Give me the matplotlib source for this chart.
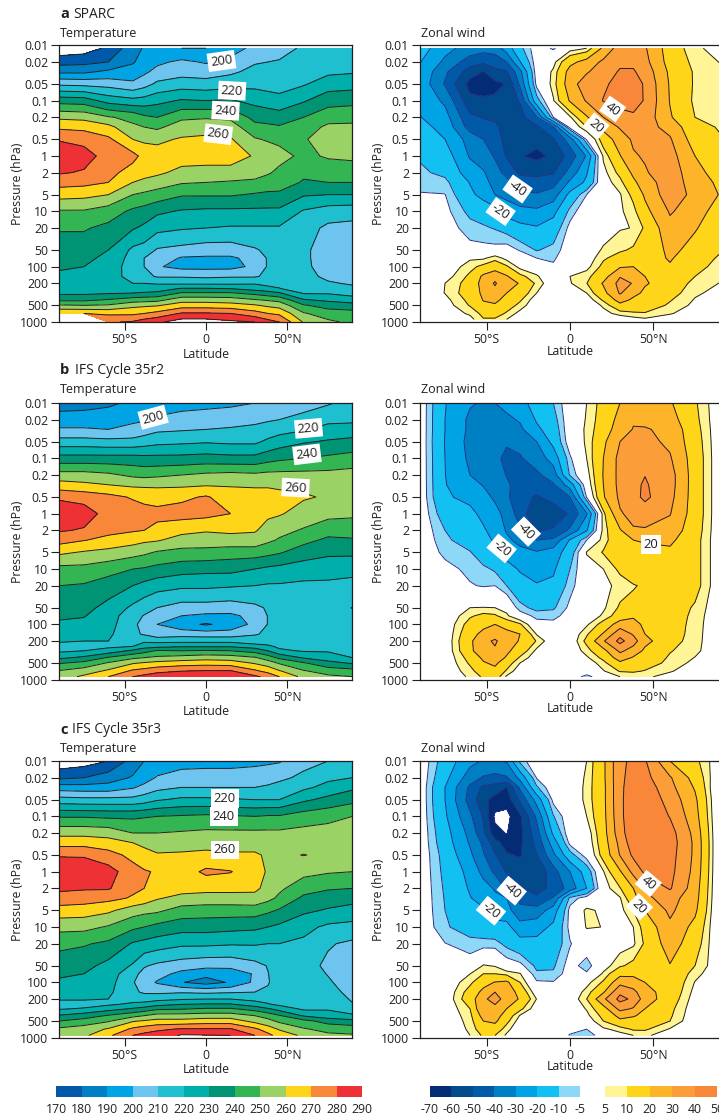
import numpy as np
import matplotlib
matplotlib.use("Agg")
import matplotlib.pyplot as plt
from matplotlib.colors import ListedColormap

plt.rcParams['font.family'] = ['Open Sans', 'DejaVu Sans']

nan = float('nan')

# pressure rows (hPa), the first / last one change per panel
p_rows_t = [0.01, 0.02, 0.03, 0.05, 0.1, 0.2, 0.3, 0.5, 1, 2, 3, 5, 10, 20, 50, 70, 100, 150, 200, 250, 300, 400, 500, 700, 1000]
p_rows_w = [0.01, 0.02, 0.03, 0.05, 0.1, 0.2, 0.3, 0.5, 1, 2, 3, 5, 10, 20, 50, 70, 100, 150, 200, 300, 400, 500, 700, 1000]
lat_t = [-90, -75, -60, -45, -38, -30, -15, 0, 15, 30, 38, 45, 60, 75, 90]
lat_w = [-90, -75, -60, -52, -45, -38, -30, -20, -10, 0, 10, 20, 30, 38, 45, 60, 75, 90]

# temperature, one list per latitude, top to bottom
t_a = [
    [163, 176, 188, 208, 236, 258, 268, 279, 288, 281, 274, 264, 249, 241, 235, 232.5, 231, 228.5, 225, 226, 228, 238, 251, 270, nan],
    [165, 177, 188, 207, 235, 257, 267, 277, 284, 279, 273, 263, 249, 241, 235, 232, 230, 226.5, 224, 225.5, 228, 238, 250, 270, nan],
    [172, 180, 192, 206, 226, 251, 263, 272, 276, 273, 270, 260, 245, 237.5, 230, 228, 226, 225, 225, 226.5, 229, 241, 251, 268, 279],
    [186, 189, 194, 202, 223, 247, 252, 260, 273, 266, 260, 250, 238, 231, 218, 216, 215, 216, 220, 224, 230, 245, 257, 268, 281],
    [191, 194, 198, 206, 224, 242, 250, 258, 267, 263, 258, 248, 236, 228, 216, 210, 210, 213, 220, 225, 231, 246, 258, 270, 285],
    [192, 198, 203, 212, 227, 240, 248, 258, 264, 262, 255, 246, 232, 223, 209, 206, 201, 209, 219, 225.5, 232, 247, 259, 273, 288],
    [190, 202, 206, 215, 231, 248, 255, 261, 265, 257, 251, 241, 229, 221, 207, 199, 197, 209, 218, 231, 241, 256, 265, 281, 295],
    [190, 199, 205, 214, 230, 249, 256, 262, 265, 256, 250, 241, 228, 220, 205, 198.5, 197, 208, 218, 231, 241, 256, 265, 281, 295],
    [195, 203, 208, 216, 231, 248, 255, 261, 265, 256, 249, 241, 228, 219, 205, 198.5, 197, 209, 218, 230, 241, 255, 264, 280, 292],
    [203, 209, 213, 217, 227, 237, 243, 251, 259, 254, 248, 239, 228, 219, 209, 203, 202, 209, 219, 226, 237, 251, 261, 274, 290],
    [205, 210, 213, 216, 225, 236, 242, 249, 256, 251, 246, 238, 228, 219, 212, 211, 211, 212, 216, 224, 234, 249, 258, 270, 284],
    [205, 211, 213, 216, 223, 235, 241, 248, 253, 248, 245, 238, 228, 219, 214, 213, 213, 214, 217, 220.5, 231, 247, 256, 268, 280],
    [212, 214, 216, 219, 229, 240, 245, 249, 248, 242, 239, 231, 219, 214, 212, 212, 212, 213, 214, 215, 219, 231, 241, 251, 259],
    [213, 216, 218, 225, 236, 246, 252, 255, 251, 245, 240, 230, 215, 208, 205, 205, 206, 208, 211, 214, 219, 228, 236, 245, 252],
    [214, 217, 219, 226, 237, 247, 252, 255, 252, 245, 240, 230, 214, 207, 204, 204, 205, 207, 209, 212, 216, 225, 234, 244, 248],
]
t_b = [
    [185, 195, 201, 214, 234, 254, 264, 278, 288, 281, 274, 262, 247, 240, 233, 231, 229, 224, 221, 217, 218, 228, 239, 251, 255],
    [186, 195, 201, 214, 234, 254, 262, 276, 285, 279, 270.5, 259, 247, 239, 233, 230.5, 228, 223.5, 220, 217, 220, 232, 243, 255, 262],
    [188, 196, 200, 213, 234, 252, 260, 273, 276, 273, 267, 257, 244, 235, 227, 225, 224, 222, 220, 218, 224, 241, 251, 262, 270],
    [192, 198, 203, 213, 234, 248, 258, 269, 275, 271, 264, 254, 240, 230, 218, 213.5, 212, 212, 218, 220, 232, 248, 259, 272, 280],
    [192, 199, 205, 215, 233, 247, 258, 267, 274, 270, 262, 252, 239, 227, 214, 209.5, 207, 209, 218, 226, 236, 250, 261, 274, 283],
    [193, 202, 208, 217, 233, 248, 258, 266, 273, 267, 261, 249, 237, 224, 210, 206, 200, 204, 217, 227, 241, 252, 263, 277, 287],
    [195, 205, 209, 218, 233, 250, 258, 268, 274, 263, 256, 247, 234, 222, 206, 200, 193, 206, 217, 229, 240, 254, 265, 280, 287],
    [197, 205, 210, 219, 234, 252, 259, 271, 273, 261, 255, 247, 233, 222, 206, 198, 189, 205, 217, 229, 241, 256, 266, 281, 288],
    [198, 206, 211, 218, 233, 253, 259, 265, 270, 262, 256, 245, 233, 221, 205, 198, 193, 205, 217, 229, 240, 255, 265, 281, 287],
    [200, 208, 212, 218, 233, 252, 259, 263, 264, 261, 256, 245, 230, 220, 208, 203, 203, 209.5, 213, 225.5, 236, 251, 259, 272, 282],
    [202, 209, 214, 222, 236, 253, 259, 263, 262, 256, 252, 243, 228, 219, 211, 210.3, 210.3, 211, 214, 222, 230, 245, 255, 267, 277],
    [204, 210, 216, 225, 238, 253, 258, 263, 261, 253, 249, 241, 227, 219, 213, 212, 211, 212, 214, 218, 222, 238, 249, 261, 270],
    [206, 213, 219, 229, 240, 253, 258, 261, 256, 249, 243, 235, 225, 218, 212, 211.5, 211, 212.5, 214, 216, 219, 229, 241, 251, 257],
    [209, 217, 224, 231, 242, 253, 257, 259, 253, 244, 238, 232, 224, 218, 213, 212.5, 212, 213.5, 215, 216.5, 219, 225, 233, 246, 252],
    [213, 218, 224, 233, 244, 254, 256, 257, 252, 244, 239, 232, 223, 217, 209.8, 211, 212, 213.5, 215, 216, 217, 220, 229, 244, 250],
]
t_c = [
    [163, 177.5, 195, 214, 239, 257, 266, 279, 288, 282, 276, 266, 253, 243, 234, 231, 229, 224, 221, 216, 219, 231, 240, 252, 256],
    [165, 180, 194, 213, 239, 257, 266, 279, 286, 281, 275, 265, 253, 241, 233, 230, 227, 224, 221, 216, 221, 235, 244, 255, 258],
    [170, 185, 194, 213, 238, 256, 264, 274, 284, 281, 273, 262, 249, 238, 227, 225.5, 224, 222, 220, 218.5, 226, 241, 249, 261, 268],
    [184, 191, 199, 213, 238, 250, 260, 267, 274, 272, 269, 255, 242, 229, 219, 213, 210.8, 212, 216, 222, 231, 247, 259, 272, 280],
    [190, 195, 203, 215, 239, 250, 258, 263, 271, 270, 266, 253, 240, 227, 211, 207, 205, 208.5, 216, 223, 234, 250, 261, 275, 283],
    [192, 201, 207, 219, 240, 250, 255, 261, 269, 269, 261, 252, 237, 225, 208, 204, 199, 208, 217, 227, 238, 254, 263, 278, 285],
    [195, 205, 210, 222, 241, 251, 257, 261, 265, 264, 257, 246, 234, 222, 205, 197, 190.5, 209, 219, 230, 239, 254, 263, 281, 291],
    [196, 205, 210, 222, 242, 252, 257, 262, 272, 263, 256, 245, 234, 222, 203, 193, 186, 208, 220, 231, 241, 255, 265, 281, 290.5],
    [196, 205, 210, 221, 241, 252, 257, 261, 270.5, 263, 256, 245, 233, 221, 203, 194, 191, 209, 220, 231, 241, 255, 265, 281, 290],
    [197, 206, 210, 220, 240, 252, 257, 261, 264, 262, 257, 245, 232, 221, 207, 201, 202, 210, 217, 225, 236, 250, 257, 272, 280],
    [198, 207, 211, 220, 241, 252, 256, 259, 259, 257, 253, 242, 230, 220, 210.5, 209.7, 209.5, 211, 216, 221, 231, 246, 253, 265, 273],
    [199, 208, 213, 220, 241, 252, 255, 258, 256, 252, 248, 239, 228, 220, 214, 214, 213, 214, 216, 218, 226, 241, 248, 259, 266],
    [207, 212, 218, 228, 245, 253, 256, 260.3, 253, 244, 238, 232, 223, 218, 214, 214, 214, 214, 215, 215, 218, 229, 243, 251, 258],
    [210, 218, 223, 233, 247, 254, 256, 258, 251, 241, 235, 229, 218, 211, 208, 209.6, 211, 213, 215, 216, 219, 224, 236, 247, 252],
    [213, 220, 228, 237, 250, 254, 255, 255, 250, 240, 234, 226, 217, 208, 206, 206, 206, 207.5, 209, 210.5, 213, 222, 233, 246, 251],
]

# zonal wind, one list per latitude, top to bottom
w_a = [
    [-15, -19.5, -22, -23, -22, -19.6, -17, -14, -11, -8.5, -7, -4.5, -3, -2, -1, 0, 0, 0, 0, 0, 0, 0, 0, 0],
    [-27, -32, -38, -41, -32, -26, -23, -20, -15, -12, -8, -4.8, -3, -2, -1, -0.5, 0, 2, 5, 5.2, 3, 2, 1, 0],
    [-34, -45, -55, -64, -57, -48, -44, -34, -31, -25, -20.5, -18, -12, -7.5, -3, 4, 8, 11.5, 13, 14, 12, 10.5, 6, 3],
    [-36, -48, -60.5, -66, -58, -50.5, -47, -40, -35, -29, -27, -23, -14, -9, -3, 4, 12, 22, 24, 22, 20.5, 18, 12, 9.5],
    [-36, -45, -53, -63, -58, -52, -48, -46, -41, -36, -33, -30, -16, -10.5, -3, 8, 15, 27, 31, 27, 22, 19, 14, 9],
    [-25, -40, -51, -59.5, -55, -55, -54, -53, -51, -43, -37, -33, -24, -13, -2, 3, 11, 21, 23, 20, 17, 14, 9, 5],
    [-12, -20.5, -33, -38, -49, -54, -56, -57, -59, -52, -45, -37, -27, -17, -5.5, -1, 3, 12, 19.5, 15, 11, 8, 3, 0],
    [-1, -1, -1, -3, -13, -41, -52, -56, -63, -52, -47, -39, -28, -19, -10.5, -5, 0, 6, 8.5, 5, 1, 0, 0, 0],
    [-6, 3, 6, 7, 4.5, -5, -40, -51, -58, -51, -44, -35, -23, -15, -8, -6, -4, -2, 0, 0, 0, 0, 0, 0],
    [2, 17, 24, 26, 21, 4, -2, -35, -46, -36, -28, -17, -8, -3, -1, 0, 0.5, 5, 4.5, 1, 0, 0, 0, 0],
    [5, 24, 29, 35, 31, 19, 10, -4, -29, -21, -18, -5, 0, 0, 0, 1, 3, 8, 9.8, 5, 1, 0, 0, 0],
    [22, 32, 35, 38, 40.5, 30, 23, 14, 6, 3, 2, 1.5, 1, 1, 6, 9, 12, 16, 21, 17, 11, 6, 3, 0],
    [35, 38, 41, 44, 43, 37, 31, 25, 19.5, 12, 8, 4.5, 4, 4.5, 9, 13, 19, 29.5, 33, 31, 24, 17, 7, 1],
    [33, 38, 41, 46, 45, 38, 34, 31.5, 29, 22, 18, 12, 8, 5.2, 11, 15, 20, 26, 29.5, 23, 18, 15, 9, 2.5],
    [31, 33, 36, 38.5, 39, 36, 33.5, 32, 31, 29, 25, 21.5, 17, 11, 11, 15, 19, 20, 21, 18, 16, 14, 9.5, 4],
    [15, 16, 18, 19, 19.5, 21, 27, 31, 34, 36, 36, 36, 31, 27, 23, 21, 19, 17, 15, 13, 10.5, 9, 5.5, 2],
    [6, 8, 9, 9, 8.5, 10, 12, 15, 20, 23, 25, 27, 25, 21, 16, 14, 12, 10, 8, 6, 4.5, 3.5, 2, 0],
    [3, 4.8, 6, 7, 8, 9, 9.5, 10.5, 13, 16, 18, 19.5, 15, 12.5, 10.8, 9, 8, 6.5, 4.8, 3, 2, 1, 0.5, 0],
]
w_b = [
    [0, 0, 0, 0, 0, 0, 0, 0, 0, 0, 0, 0, 0, 0, 0, 0, 0, 0, 0, 0, 0, 0, 0, 0],
    [-19.5, -20, -20, -20.5, -20, -19.8, -19.5, -19, -14.5, -10, -8.5, -6.5, -3, -2, -1, -0.5, 0, 0, 0, 0, 0, 0, 0, 0],
    [-29, -32, -32, -33, -32, -30, -27, -22, -18, -16, -14, -9.5, -6.5, -4.5, 5, 9, 13, 16, 18, 17, 13, 11, 8, 6],
    [-31, -33, -35, -36, -35, -33, -30.5, -27, -22, -19, -17.5, -15, -8.5, -5.5, 5.2, 12, 17, 23, 28, 29, 22, 19, 14, 11],
    [-30, -34, -36, -38.5, -38, -35, -32, -31.5, -27, -23, -21, -17, -11, -5, 5, 11, 20, 27, 31, 29, 25, 22, 17, 14],
    [-27, -32, -34, -39, -42, -40.5, -38.5, -38, -33, -31, -28, -24, -16, -10, 3, 6, 15, 24, 26, 22, 19, 14, 9, 4],
    [-24, -29, -32, -37, -41, -42, -44, -47, -45, -38, -33, -27, -21, -16, -8, -1, 11, 20, 19, 15, 9, 5, 1, 0],
    [-15, -19, -22, -30, -35, -42, -45, -51, -58, -50.5, -40, -29, -25, -19, -12, -7, -2, 4.5, 9.5, 3.5, 1, 0, 0, 0],
    [-10, -13, -15, -17, -26, -35, -41, -47, -55, -49, -38, -25, -21.5, -18, -11, -7, -3, 0, 0, 0, 0, 0, 0, 0],
    [0, 0, 0, -1, -6, -9, -25, -40, -49, -38, -19, -15, -10, -7, -3.5, -2, -1, 0, 0, 0, 0, 0, 0, -3],
    [5, 5.5, 6, 6, 5, 2, 0, -4.5, -31, -21, -5, 5.5, 2, 0, 0, 0.5, 4, 9, 12, 7.5, 4, 1, -3, -6],
    [13, 14, 15, 18, 20, 20.5, 20, 19, 8, 7, 7.5, 10.5, 5, 3, 4, 6, 13, 21, 29, 17, 12, 8, 4.5, -3],
    [20, 23, 25, 30, 33, 33, 33, 32, 29, 19, 16, 13, 11.5, 7, 11, 14, 25, 37, 43, 32, 25, 18, 10.5, 5],
    [22, 29, 30.5, 33, 36, 38, 38, 37, 33, 29, 20, 17, 15, 9.5, 12, 18, 25, 29, 34, 26, 19, 16, 11, 6],
    [25, 27, 31, 33, 36, 39.8, 41, 42, 35, 29, 21, 17, 15, 11, 15, 16, 17, 20, 23, 18, 16, 14, 9.5, 6],
    [21, 24, 27, 28, 31, 34, 34, 33, 30.5, 26, 22, 18, 17, 16.5, 15, 15, 14.5, 14, 13, 10.5, 9, 8, 5.5, 3],
    [11, 12, 13, 14, 15, 15, 15, 15, 15, 14, 13, 13, 13, 13, 9, 8, 7.5, 7.2, 7, 6.5, 4.8, 3.5, 2, 1],
    [0, 0, 0, 0, 0, 0, 0, 0, 0, 0, 0, 0, 0, 0, 0, 0, 0, 0, 0, 0, 0, 0, 0, 0],
]
w_c = [
    [0, 0, 0, 0, 0, 0, 0, 0, 0, 0, 0, 0, 0, 0, 0, 0, 0, 0, 0, 0, 0, 0, 0, 0],
    [-14, -17, -20, -20, -18.5, -16, -15, -13, -12, -11, -10.5, -10, -9, -4.8, -1, -0.5, 0, 0, 0, 0, 0, 0, 0, 0],
    [-27, -35, -42, -44, -38, -33, -31, -28, -23, -21, -19.5, -17, -14, -7.5, -2, 4.9, 8.5, 13, 15, 10, 8, 7, 6, 5],
    [-31, -41, -52, -57, -51, -48, -42, -39, -33, -26, -24, -18.5, -15.5, -7.5, 5.5, 10, 16, 23, 28, 30, 24, 20, 15, 11],
    [-31, -43, -54, -64, -72, -67, -56, -49, -42, -31, -28, -24, -17, -7.5, 4.5, 10, 20.5, 30, 34, 27, 25, 22, 15, 10],
    [-29, -41, -60.5, -66, -73, -70.5, -65, -59, -51, -42, -30, -26, -17, -12, -1, 8, 22, 27, 26, 20, 15, 12, 7, 4],
    [-8, -27, -38, -48, -62, -63, -62, -61, -55, -49, -43, -37, -26, -16, -3, 5.5, 10, 16, 19, 12, 4.5, 2, 0, 0],
    [0, -4.5, -11, -26, -38, -44, -47, -50.5, -58, -54, -48, -36, -24, -17, -11.5, -9, -4, 1, 4.8, 1, 0, 0, 0, 0],
    [0, 0, 0, -3, -10.5, -18, -25, -32, -44, -47, -39, -25, -18, -15, -11, -9, -4.5, -1, 0, 0, 0, 0, 0, 0],
    [0, 0, 0, 0, 0, 0, -3, -13, -30, -36, -8, -3, -3, -5.5, -2, -1.5, -1, 0, 0, 0, 0, 0, -3, -5.5],
    [5, 6, 6.5, 6.5, 5, 1, 0, -2, -15, -20, -2, 6.5, 5.5, 0, -8, -4, 3, 7, 10, 5.5, 3.5, 1, -5, -7],
    [18, 18, 17.5, 17.5, 17, 16, 15, 13, 4.5, 2, 2, 3.5, 4.9, 1, 2, 6, 11, 19, 28, 16, 12, 10, 4, -3],
    [38, 38, 38, 38, 37.5, 36, 33, 30.5, 19, 9.5, 4.5, 3, 2, 2, 9, 17, 27, 38, 43, 33, 23, 18, 7, 3],
    [42, 43.5, 45, 46, 47, 47, 46, 42, 33, 20, 16, 10, 5, 4, 12, 18, 24, 33, 38, 29, 21, 16, 11, 5],
    [41, 43, 46, 48, 49, 49, 48, 46, 42, 31, 28, 20, 13, 11, 13, 16, 20, 23, 25, 20, 17, 15, 11, 6],
    [20, 31, 33, 36, 39.5, 44, 45, 44, 43, 41, 34, 32, 28, 25, 19.5, 18, 17, 16, 14.5, 12, 11, 10, 4.5, 2],
    [12, 16, 19, 22, 24, 27, 28, 28, 27, 25, 24, 22, 17, 14, 10, 7, 4.7, 3, 2, 1, 0.5, 0, 0, 0],
    [0, -2, -4, -4, -4, -4, -4, -4, -4, -4, -4, -4, -3, -2, 0, 0, 0, 0, 0, 0, 0, 0, 0, 0],
]

t_levels = [170, 180, 190, 200, 210, 220, 230, 240, 250, 260, 270, 280, 290]
t_colors = ['#0058a8', '#0080c4', '#00a3e3', '#6dc5ef', '#20bfcf', '#00aeaa', '#009474',
            '#33b554', '#9bd266', '#ffd51a', '#f8873a', '#ee3135']
w_neg_levels = [-70, -60, -50, -40, -30, -20, -10, -5]
w_pos_levels = [5, 10, 20, 30, 40, 50]
w_neg_colors = ['#032c75', '#014a8c', '#005aa8', '#0080c4', '#00a3e3', '#12c0f2', '#8dd8f6']
w_pos_colors = ['#fff596', '#ffd51a', '#fdb428', '#fb9e3a', '#f8873a']

p_ticks = [0.01, 0.02, 0.05, 0.1, 0.2, 0.5, 1, 2, 5, 10, 20, 50, 100, 200, 500, 1000]
p_labels = ['0.01', '0.02', '0.05', '0.1', '0.2', '0.5', '1', '2', '5', '10', '20', '50', '100', '200', '500', '1000']
lat_ticks = [-50, 0, 50]
lat_labels = ['50°S', '0', '50°N']

# contour labels: text, latitude, pressure, rotation
t_a_labels = [('200', 9.5, 0.0192, 8), ('220', 16, 0.066, -3), ('240', 12, 0.152, -3), ('260', 7.5, 0.405, -7)]
w_a_labels = [('-40', -31.4, 3.95, -35), ('-20', -41.6, 10.1, -35), ('40', 25.6, 0.141, -35), ('20', 15.6, 0.287, -40)]
t_b_labels = [('200', -32.5, 0.0181, 15), ('220', 63, 0.0287, 5), ('240', 62, 0.0847, 7), ('260', 55, 0.339, -3)]
w_b_labels = [('-40', -26.4, 2.11, -45), ('-20', -41, 4.24, -40), ('20', 48.6, 3.58, 0)]
t_c_labels = [('220', 11.6, 0.0473, 0), ('240', 11, 0.101, 0), ('260', 11.6, 0.405, 0)]
w_c_labels = [('-40', -35, 2.2, -40), ('-20', -47.4, 5.07, -40), ('40', 47, 1.63, -40), ('20', 41.6, 4.3, -45)]

W = 719
H = 1119
TXT = '#231f20'
FS = 8.8

fig = plt.figure(figsize=(W / 100, H / 100), dpi=100)


def px_axes(x0, y0, x1, y1):
    return fig.add_axes([x0 / W, 1 - y1 / H, (x1 - x0) / W, (y1 - y0) / H])


def px_text(x, y, s, **kw):
    fig.text(x / W, 1 - y / H, s, color=TXT, va='center', **kw)


def panel(box, lats, data, p_top, p_bot, labels, wind, pad):
    ax = px_axes(*box)
    rows = list(p_rows_w if wind else p_rows_t)
    rows[0] = p_top
    rows[-1] = p_bot
    y = np.log10(rows)
    z = np.array(data, dtype=float).T
    if wind:
        ax.contourf(lats, y, z, levels=w_neg_levels + w_pos_levels,
                    colors=w_neg_colors + ['white'] + w_pos_colors)
        ax.contour(lats, y, z, levels=w_neg_levels, colors='#2b2e83', linewidths=0.7, linestyles='solid')
        ax.contour(lats, y, z, levels=w_pos_levels, colors='#231f20', linewidths=0.7)
    else:
        ax.contourf(lats, y, z, levels=t_levels, colors=t_colors)
        ax.contour(lats, y, z, levels=t_levels, colors='#231f20', linewidths=0.7)
    for s, la, p, rot in labels:
        ax.text(la, np.log10(p), s, rotation=rot, ha='center', va='center', fontsize=FS + 0.6, color=TXT,
                rotation_mode='anchor', bbox=dict(fc='white', ec='none', pad=2.0))
    ax.set_xlim(-90, 90)
    ax.set_ylim(3, -2)
    ax.set_yticks(np.log10(p_ticks))
    ax.set_yticklabels(p_labels)
    ax.set_xticks(lat_ticks)
    ax.set_xticklabels(lat_labels)
    ax.tick_params(length=6, width=0.8, labelsize=FS, colors=TXT, pad=2)
    ax.set_xlabel('Latitude', fontsize=FS, color=TXT, labelpad=pad)
    ax.set_ylabel('Pressure (hPa)', fontsize=FS, color=TXT, labelpad=-3)
    for sp in ax.spines.values():
        sp.set_linewidth(0.9)
        sp.set_color(TXT)
    return ax


panel((59.5, 45.3, 352.5, 322), lat_t, t_a, 0.0113, 1000, t_a_labels, False, 1)
panel((420, 45.3, 720, 322), lat_w, w_a, 0.0113, 895, w_a_labels, True, -1)
panel((59.5, 403, 352.5, 679.7), lat_t, t_b, 0.01, 883, t_b_labels, False, 1)
panel((420, 403, 720, 679.7), lat_w, w_b, 0.01, 883, w_b_labels, True, -1)
panel((59.5, 761, 352.5, 1037.7), lat_t, t_c, 0.01, 908, t_c_labels, False, 1)
panel((420, 761, 720, 1037.7), lat_w, w_c, 0.01, 908, w_c_labels, True, -1)

# panel headings
for letter, name, y, x_name in [('a', 'SPARC', 14.5, 73), ('b', 'IFS Cycle 35r2', 370.5, 75), ('c', 'IFS Cycle 35r3', 729.5, 72)]:
    px_text(60, y, letter, fontsize=10.5, fontweight='bold')
    px_text(x_name, y, name, fontsize=10)
for y in [33.5, 389.5, 748.5]:
    px_text(60, y, 'Temperature', fontsize=9)
    px_text(421, y, 'Zonal wind', fontsize=9)


def key(x0, x1, levels, colors):
    ax = px_axes(x0, 1086, x1, 1097)
    idx = np.arange(len(colors)).reshape(1, -1)
    ax.pcolormesh(np.arange(len(levels)), [0, 1], idx, cmap=ListedColormap(colors), shading='flat')
    ax.set_yticks([])
    ax.set_xticks(np.arange(len(levels)))
    ax.set_xticklabels([str(v) for v in levels])
    ax.tick_params(length=0, labelsize=FS, colors=TXT, pad=4)
    for sp in ax.spines.values():
        sp.set_visible(False)


key(56, 362, t_levels, t_colors)
key(430, 580, w_neg_levels, w_neg_colors)
key(605, 717, w_pos_levels, w_pos_colors)

fig.savefig('out.png', dpi=100)
